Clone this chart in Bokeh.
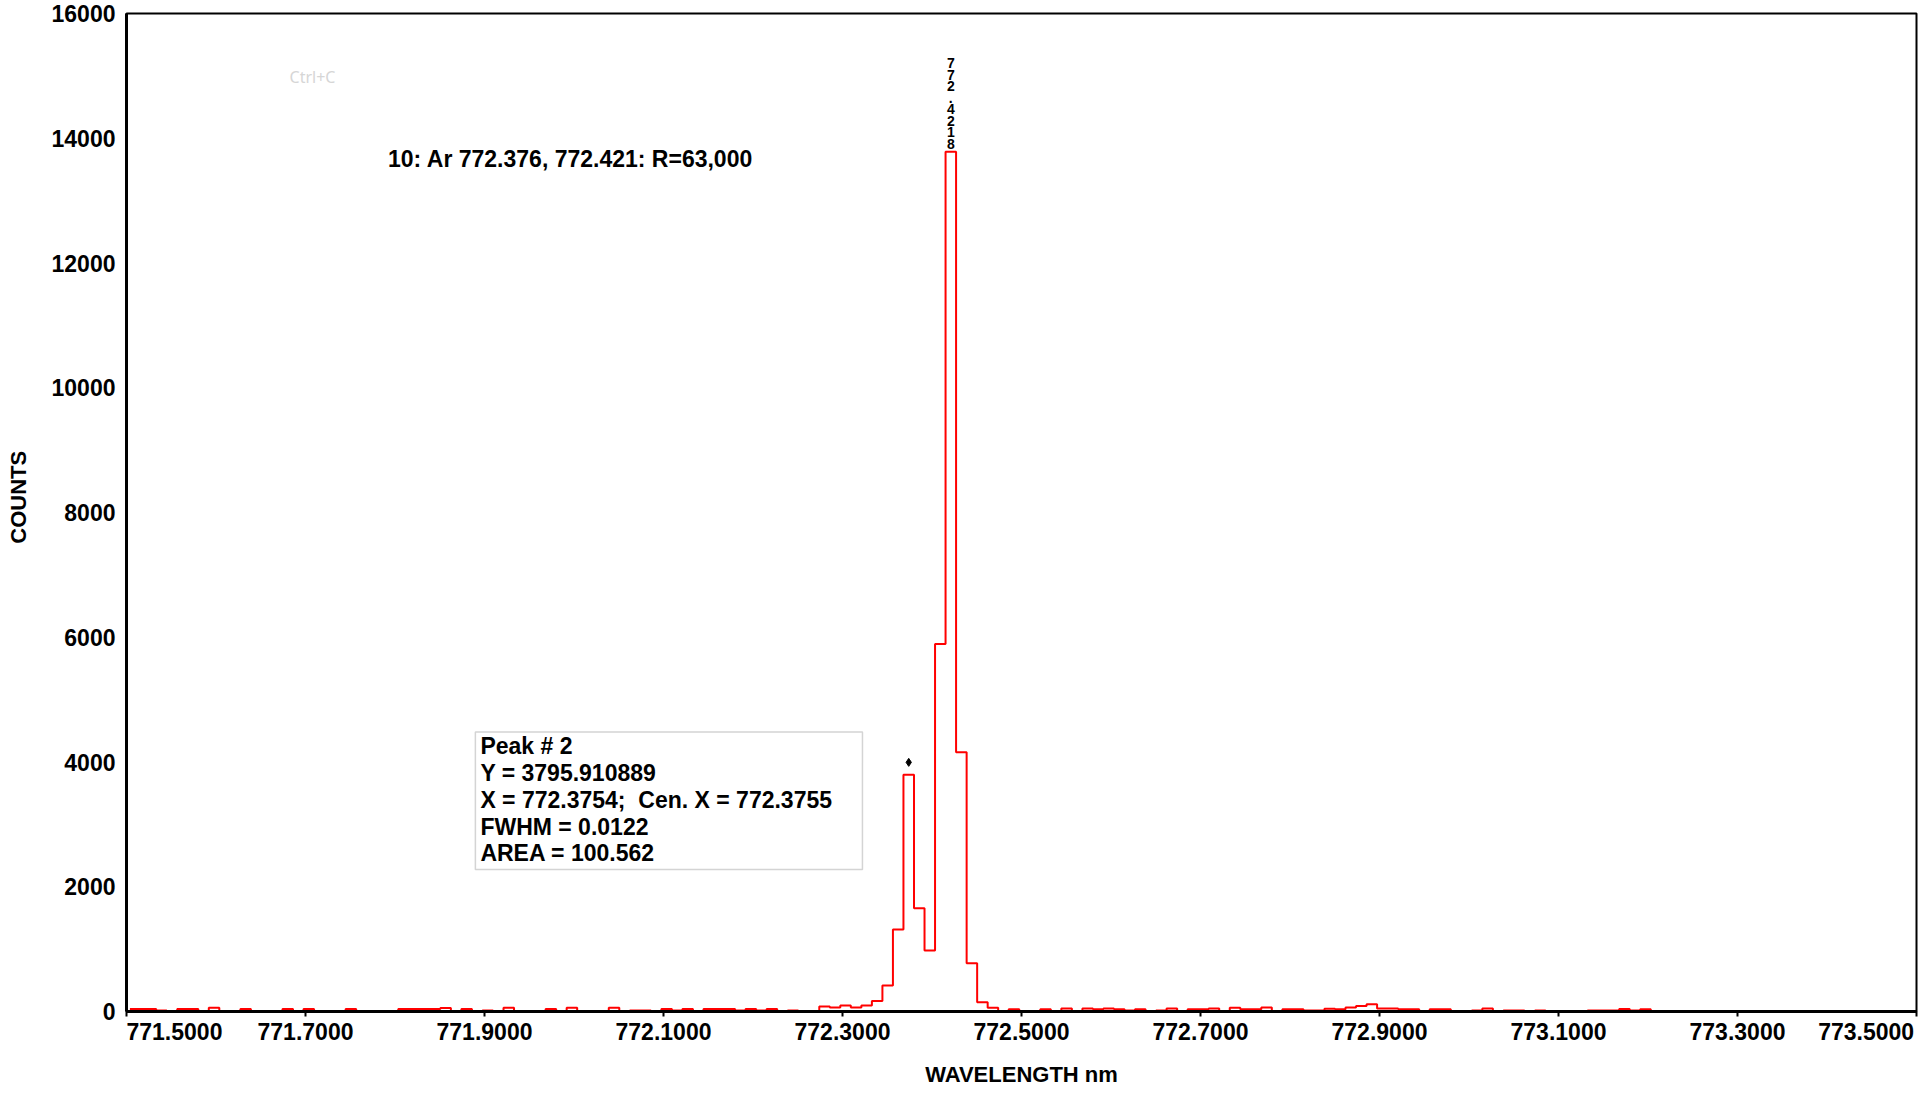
from bokeh.plotting import figure
from bokeh.models import Range1d, FixedTicker, Label, BoxAnnotation
from bokeh.embed import file_html
from bokeh.resources import INLINE

# ---- data ----
wavelength = [
    771.5038, 771.5155, 771.5273, 771.5390, 771.5508, 771.5626, 771.5743, 771.5861, 771.5978, 771.6096,
    771.6214, 771.6331, 771.6449, 771.6566, 771.6684, 771.6802, 771.6919, 771.7037, 771.7154, 771.7272,
    771.7390, 771.7507, 771.7625, 771.7742, 771.7860, 771.7978, 771.8095, 771.8213, 771.8330, 771.8448,
    771.8566, 771.8683, 771.8801, 771.8918, 771.9036, 771.9154, 771.9271, 771.9389, 771.9506, 771.9624,
    771.9742, 771.9859, 771.9977, 772.0094, 772.0212, 772.0330, 772.0447, 772.0565, 772.0682, 772.0800,
    772.0918, 772.1035, 772.1153, 772.1270, 772.1388, 772.1506, 772.1623, 772.1741, 772.1858, 772.1976,
    772.2094, 772.2211, 772.2329, 772.2446, 772.2564, 772.2682, 772.2799, 772.2917, 772.3034, 772.3152,
    772.3270, 772.3387, 772.3505, 772.3622, 772.3740, 772.3858, 772.3975, 772.4093, 772.4210, 772.4328,
    772.4446, 772.4563, 772.4681, 772.4798, 772.4916, 772.5034, 772.5151, 772.5269, 772.5386, 772.5504,
    772.5622, 772.5739, 772.5857, 772.5974, 772.6092, 772.6210, 772.6327, 772.6445, 772.6562, 772.6680,
    772.6798, 772.6915, 772.7033, 772.7150, 772.7268, 772.7386, 772.7503, 772.7621, 772.7738, 772.7856,
    772.7974, 772.8091, 772.8209, 772.8326, 772.8444, 772.8562, 772.8679, 772.8797, 772.8914, 772.9032,
    772.9150, 772.9267, 772.9385, 772.9502, 772.9620, 772.9738, 772.9855, 772.9973, 773.0090, 773.0208,
    773.0326, 773.0443, 773.0561, 773.0678, 773.0796, 773.0914, 773.1031, 773.1149, 773.1266, 773.1384,
    773.1502, 773.1619, 773.1737, 773.1854, 773.1972, 773.2090,
]
counts = [
    40, 40, 40, 15, 0, 40, 40, 0, 60, 0,
    0, 40, 0, 0, 0, 40, 0, 40, 0, 0,
    0, 40, 0, 0, 0, 0, 40, 40, 40, 40,
    55, 0, 40, 0, 15, 0, 60, 0, 0, 0,
    40, 0, 60, 0, 0, 0, 60, 0, 15, 15,
    0, 40, 15, 40, 0, 40, 40, 40, 15, 40,
    15, 40, 0, 15, 0, 0, 82, 64, 98, 64,
    98, 170, 417, 1315, 3796, 1657, 978, 5892, 13782, 4155,
    775, 149, 59, 0, 35, 0, 0, 35, 0, 50,
    0, 50, 35, 50, 35, 15, 35, 0, 15, 50,
    0, 35, 35, 50, 0, 60, 35, 35, 65, 0,
    35, 35, 15, 15, 45, 35, 65, 90, 115, 50,
    50, 35, 35, 0, 35, 35, 0, 0, 15, 50,
    0, 15, 15, 0, 15, 0, 0, 0, 0, 15,
    15, 15, 40, 15, 35, 0,
]
x_ticks = [771.5, 771.7, 771.9, 772.1, 772.3, 772.5, 772.7, 772.9, 773.1, 773.3, 773.5]
x_tick_labels = ["771.5000", "771.7000", "771.9000", "772.1000", "772.3000", "772.5000",
                 "772.7000", "772.9000", "773.1000", "773.3000", "773.5000"]
y_ticks = [0, 2000, 4000, 6000, 8000, 10000, 12000, 14000, 16000]
title_text = "10: Ar 772.376, 772.421: R=63,000"
peak_label = "772.4218"
peak2_info = ["Peak # 2", "Y = 3795.910889", "X = 772.3754;  Cen. X = 772.3755",
              "FWHM = 0.0122", "AREA = 100.562"]
marker_x = [772.3740]
marker_y = [3994]

FONT = "Liberation Sans"

p = figure(width=1920, height=1094, output_backend="svg", toolbar_location=None,
           x_range=Range1d(771.5, 773.5), y_range=Range1d(0, 16000),
           min_border_left=126, min_border_right=4, min_border_top=13, min_border_bottom=83)
p.background_fill_color = "white"
p.border_fill_color = "white"
p.outline_line_color = "black"
p.outline_line_width = 2
p.xgrid.visible = False
p.ygrid.visible = False

p.step(wavelength, counts, mode="center", line_color="#FF0000", line_width=2)
p.scatter(marker_x, marker_y, marker="diamond", size=8, color="black")

# first label starts at the axis (figure-space padding); last one is kept inside the canvas
PAD = "\u2007" * 7 + "\u2008"
overrides = {}
for i, (t, lab) in enumerate(zip(x_ticks, x_tick_labels)):
    if i == 0:
        overrides[t] = PAD + lab
    elif i == len(x_ticks) - 1:
        overrides[t] = lab + "\u2008"
    else:
        overrides[t] = lab

xa = p.xaxis[0]
xa.ticker = FixedTicker(ticks=x_ticks)
xa.major_label_overrides = overrides
xa.axis_label = "WAVELENGTH nm"
xa.axis_label_text_font = FONT
xa.axis_label_text_font_size = "22px"
xa.axis_label_text_font_style = "bold"
xa.axis_label_text_color = "black"
xa.axis_label_standoff = 14
xa.major_label_text_font = FONT
xa.major_label_text_font_size = "23px"
xa.major_label_text_font_style = "bold"
xa.major_label_text_color = "black"
xa.major_label_standoff = 2
xa.major_tick_out = 5
xa.major_tick_in = 0
xa.minor_tick_out = 0
xa.minor_tick_in = 0
xa.axis_line_width = 3
xa.axis_line_color = "black"
xa.major_tick_line_width = 2
xa.major_tick_line_color = "black"

ya = p.yaxis[0]
ya.ticker = FixedTicker(ticks=y_ticks)
ya.axis_label = "\u00a0" * 5 + "COUNTS"
ya.axis_label_text_font = FONT
ya.axis_label_text_font_size = "22px"
ya.axis_label_text_font_style = "bold"
ya.axis_label_text_color = "black"
ya.axis_label_standoff = 18
ya.major_label_text_font = FONT
ya.major_label_text_font_size = "23px"
ya.major_label_text_font_style = "bold"
ya.major_label_text_color = "black"
ya.major_label_standoff = 11
ya.major_tick_out = 0
ya.major_tick_in = 0
ya.minor_tick_out = 0
ya.minor_tick_in = 0
ya.axis_line_width = 3
ya.axis_line_color = "black"

p.add_layout(Label(x=771.7922, y=13667, text=title_text, text_baseline="alphabetic",
                   text_font=FONT, text_font_size="23px", text_font_style="bold", text_color="black"))

p.add_layout(BoxAnnotation(left=771.8898, right=772.3223, bottom=2278, top=4480,
                           fill_alpha=0, line_color="#707070", line_width=1.5))
info_text = "\n".join(line.replace("  ", "\u00a0 ") for line in peak2_info)
p.add_layout(Label(x=771.8954, y=4460, text=info_text, text_baseline="top",
                   text_line_height=1.03, text_font=FONT, text_font_size="23px",
                   text_font_style="bold", text_color="black"))

imax = counts.index(max(counts))
p.add_layout(Label(x=wavelength[imax], y=counts[imax], text="\n".join(peak_label),
                   text_align="center", text_baseline="bottom", text_line_height=0.72,
                   text_font=FONT, text_font_size="14px", text_font_style="bold",
                   text_color="black"))

# faint context-menu remnant in the reference
p.add_layout(Label(x=771.7335, y=14987, text="Ctrl+C", text_align="right", text_font="Noto Sans",
                   text_font_size="16px", text_color="#d6d6d6", text_baseline="alphabetic"))

open("out.html", "w").write(file_html(p, INLINE))
